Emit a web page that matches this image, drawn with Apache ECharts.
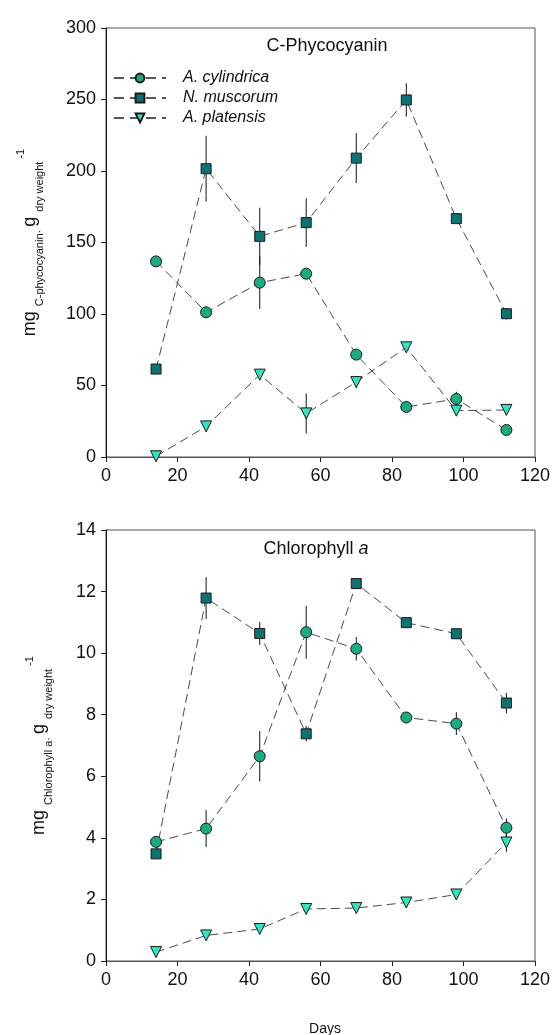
<!DOCTYPE html>
<html>
<head>
<meta charset="utf-8">
<script src="https://cdn.jsdelivr.net/npm/echarts@6/dist/echarts.min.js"></script>
<style>
  html, body { margin: 0; padding: 0; background: #fff; }
  #chart { width: 554px; height: 1035px; }
</style>
</head>
<body>
<div id="chart"></div>
<script>
// Sampling days
const days = [14, 28, 43, 56, 70, 84, 98, 112];
const seriesNames = ['A. cylindrica', 'N. muscorum', 'A. platensis'];

// C-phycocyanin (mg per g dry weight)
const pcCylindrica = [136.8, 101.2, 121.9, 128.2, 71.6, 35.0, 40.6, 18.9];
const pcMuscorum   = [61.5, 201.6, 154.3, 163.9, 209.0, 249.7, 166.7, 100.2];
const pcPlatensis  = [0.5, 21.4, 57.6, 30.5, 52.4, 76.7, 32.4, 32.9];
const pcCylindricaErr = [0, 0, 18.4, 0, 0, 0, 5, 0];
const pcMuscorumErr   = [0, 23, 20, 17, 17.5, 11.6, 0, 4];
const pcPlatensisErr  = [0, 0, 4, 14, 4, 0, 0, 0];

// Chlorophyll a (mg per g dry weight)
const chlCylindrica = [3.87, 4.30, 6.65, 10.68, 10.14, 7.91, 7.71, 4.33];
const chlMuscorum   = [3.48, 11.79, 10.64, 7.38, 12.26, 10.99, 10.63, 8.38];
const chlPlatensis  = [0.29, 0.83, 1.04, 1.69, 1.72, 1.90, 2.16, 3.85];
const chlCylindricaErr = [0, 0.6, 0.82, 0.86, 0.38, 0, 0.37, 0.3];
const chlMuscorumErr   = [0, 0.68, 0.37, 0.25, 0, 0, 0, 0.33];
const chlPlatensisErr  = [0, 0, 0, 0, 0, 0, 0, 0.3];

const pcTicks = [0, 50, 100, 150, 200, 250, 300];
const chlTicks = [0, 2, 4, 6, 8, 10, 12, 14];

const colors = ['#1aab80', '#0d7272', '#30e4c0'];
const symbols = ['circle', 'rect', 'triangle'];
const symbolSizes = [11, 10, 11];
const symbolRotates = [0, 0, 180];
const FONT = 'Liberation Sans, Arial, sans-serif';

function pairs(values) {
  return days.map((d, i) => [d, values[i]]);
}

function lineSeries(idx, axis, values) {
  return {
    name: seriesNames[idx],
    type: 'line',
    xAxisIndex: axis,
    yAxisIndex: axis,
    data: pairs(values),
    symbol: symbols[idx],
    symbolSize: symbolSizes[idx],
    symbolRotate: symbolRotates[idx],
    lineStyle: { color: '#4a4a4a', width: 1, type: [9, 5] },
    itemStyle: { color: colors[idx], borderColor: '#1a1a1a', borderWidth: 1 },
    z: 3,
    animation: false
  };
}

function errorSeries(axis, values, errs) {
  return {
    type: 'custom',
    xAxisIndex: axis,
    yAxisIndex: axis,
    data: days.map((d, i) => [d, values[i], errs[i]]),
    silent: true,
    z: 2,
    animation: false,
    renderItem: function (params, api) {
      const e = api.value(2);
      if (!e) return null;
      const x = api.value(0), y = api.value(1);
      const p1 = api.coord([x, y - e]);
      const p2 = api.coord([x, y + e]);
      return {
        type: 'line',
        shape: { x1: p1[0], y1: p1[1], x2: p2[0], y2: p2[1] },
        style: { stroke: '#111', lineWidth: 1 }
      };
    }
  };
}

function xAxisDef(gridIndex) {
  return {
    type: 'value', gridIndex: gridIndex, min: 0, max: 120, interval: 20,
    axisLine: { show: true, onZero: false, lineStyle: { color: '#555', width: 1 } },
    axisTick: { show: true, inside: false, length: 5, lineStyle: { color: '#222' } },
    axisLabel: { color: '#111', fontSize: 18, fontFamily: FONT, margin: 10 },
    splitLine: { show: false }
  };
}

function yAxisDef(gridIndex, ticks, name, gap) {
  return {
    type: 'value', gridIndex: gridIndex,
    min: ticks[0], max: ticks[ticks.length - 1], interval: ticks[1] - ticks[0],
    axisLine: { show: true, onZero: false, lineStyle: { color: '#111', width: 1 } },
    axisTick: { show: true, inside: false, length: 5, lineStyle: { color: '#222' } },
    axisLabel: { color: '#111', fontSize: 18, fontFamily: FONT, margin: 10 },
    splitLine: { show: false },
    name: name,
    nameLocation: 'middle',
    nameRotate: 90,
    nameGap: gap,
    nameTextStyle: {
      fontFamily: FONT, color: '#111',
      rich: {
        b: { fontSize: 18, fontFamily: FONT, color: '#111', lineHeight: 30, verticalAlign: 'middle' },
        s: { fontSize: 11, fontFamily: FONT, color: '#111', lineHeight: 12, verticalAlign: 'bottom' },
        p: { fontSize: 11, fontFamily: FONT, color: '#111', lineHeight: 6, verticalAlign: 'top' }
      }
    }
  };
}

const chart = echarts.init(document.getElementById('chart'), null, { renderer: 'canvas' });

chart.setOption({
  animation: false,
  backgroundColor: '#fff',
  title: [
    { text: 'C-Phycocyanin', left: 322, top: 32, textAlign: 'center',
      textStyle: { fontSize: 18, fontWeight: 'normal', color: '#111', fontFamily: FONT } },
    { text: 'Chlorophyll {i|a}', left: 311, top: 535, textAlign: 'center',
      textStyle: { fontSize: 18, fontWeight: 'normal', color: '#111', fontFamily: FONT,
        rich: { i: { fontSize: 18, fontStyle: 'italic', color: '#111', fontFamily: FONT } } } },
    { text: 'Days', left: 320, top: 1017, textAlign: 'center',
      textStyle: { fontSize: 14, fontWeight: 'normal', color: '#111', fontFamily: FONT } }
  ],
  legend: {
    show: true,
    orient: 'vertical',
    left: 108,
    top: 65,
    itemWidth: 52,
    itemHeight: 11,
    itemGap: 4,
    data: seriesNames,
    textStyle: { fontSize: 16, fontStyle: 'italic', color: '#111', fontFamily: FONT, padding: [0, 0, 0, 12] },
    lineStyle: { color: '#555', type: [10, 6] }
  },
  grid: [
    { left: 106, right: 19, top: 28, height: 429, show: true, borderColor: '#555', borderWidth: 1 },
    { left: 106, right: 19, top: 530, height: 431, show: true, borderColor: '#555', borderWidth: 1 }
  ],
  xAxis: [xAxisDef(0), xAxisDef(1)],
  yAxis: [
    yAxisDef(0, pcTicks, '{b|mg }{s|C-phycocyanin· }{b|g }{s|dry weight}{p| -1}', 61),
    yAxisDef(1, chlTicks, '{b|mg }{s|Chlorophyll a· }{b|g }{s|dry weight}{p| -1}', 52)
  ],
  series: [
    errorSeries(0, pcCylindrica, pcCylindricaErr),
    errorSeries(0, pcMuscorum, pcMuscorumErr),
    errorSeries(0, pcPlatensis, pcPlatensisErr),
    lineSeries(0, 0, pcCylindrica),
    lineSeries(1, 0, pcMuscorum),
    lineSeries(2, 0, pcPlatensis),
    errorSeries(1, chlCylindrica, chlCylindricaErr),
    errorSeries(1, chlMuscorum, chlMuscorumErr),
    errorSeries(1, chlPlatensis, chlPlatensisErr),
    lineSeries(0, 1, chlCylindrica),
    lineSeries(1, 1, chlMuscorum),
    lineSeries(2, 1, chlPlatensis)
  ]
});
</script>
</body>
</html>
